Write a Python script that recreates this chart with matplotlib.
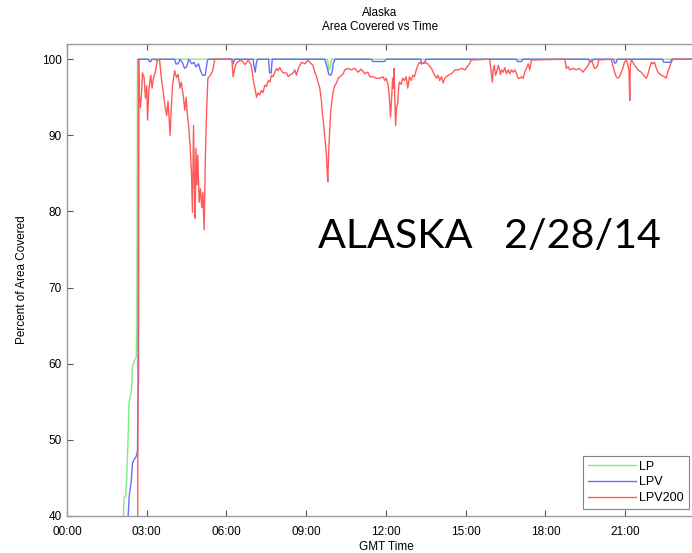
import matplotlib.pyplot as plt

# GMT hours / percent of area covered
lp_t = [2.12, 2.15, 2.20, 2.24, 2.28, 2.31, 2.33, 2.38, 2.43, 2.46, 2.52, 2.60, 2.63, 2.65,
        3.30, 3.35, 3.45, 3.50, 9.80, 9.85, 9.90, 9.95, 24.0]
lp_v = [40, 42.5, 42.5, 44.7, 48.3, 51.7, 54.8, 55.7, 56.6, 59.6, 60.3, 60.8, 64.4, 100,
        100, 99.8, 99.8, 100, 100, 98.6, 98.9, 100, 100]

lpv_t = [2.30, 2.34, 2.39, 2.42, 2.46, 2.52, 2.60, 2.65, 2.67, 2.69, 2.70,
         3.05, 3.10, 3.15, 3.20, 4.05, 4.10, 4.18, 4.25, 4.35, 4.42, 4.50, 4.58, 4.70, 4.78,
         4.85, 4.95, 5.02, 5.10, 5.20, 5.28, 5.32, 6.20, 6.25, 6.30, 7.00, 7.04, 7.08, 7.12,
         7.16, 7.58, 7.62, 7.68, 7.72, 9.70, 9.78, 9.85, 9.92, 9.97, 10.02, 10.08,
         11.45, 11.50, 11.95, 12.00, 13.30, 13.35, 13.45, 13.50, 16.90, 16.95, 17.10, 17.15,
         19.62, 19.66, 19.75, 19.80, 20.55, 20.60, 20.65, 20.70, 22.40, 22.45, 22.70, 22.75, 24.0]
lpv_v = [40, 42.6, 43.9, 44.7, 46.9, 47.4, 47.8, 48.5, 55.2, 57.9, 100,
         100, 99.7, 99.7, 100, 100, 99.4, 99.4, 100, 99.5, 98.8, 99.0, 100, 99.4, 99.6,
         99.0, 99.4, 98.5, 97.9, 97.9, 99.8, 100, 100, 99.4, 100, 100, 99.0, 98.3, 99.4,
         100, 100, 98.2, 98.2, 100, 100, 99.0, 98.0, 97.9, 98.3, 99.5, 100,
         100, 99.7, 99.7, 100, 100, 99.4, 99.5, 100, 100, 99.7, 99.7, 100,
         100, 99.7, 99.7, 100, 100, 99.5, 99.5, 100, 100, 99.6, 99.6, 100, 100]

lpv200_t = [2.66, 2.69, 2.72, 2.76, 2.80, 2.84, 2.90, 2.95, 3.00, 3.03, 3.08, 3.15, 3.20, 3.25,
            3.32, 3.40, 3.48, 3.55, 3.62, 3.68, 3.75, 3.80, 3.88, 3.92, 3.97, 4.05, 4.12, 4.18,
            4.25, 4.30, 4.37, 4.43, 4.48, 4.52, 4.58, 4.63, 4.68, 4.72, 4.76, 4.79, 4.82, 4.85,
            4.89, 4.92, 4.97, 5.02, 5.07, 5.11, 5.16, 5.20, 5.25, 5.30, 5.40, 5.48, 5.56, 6.20,
            6.25, 6.32, 6.40, 6.55, 6.70, 6.82, 6.92, 6.97, 7.02, 7.07, 7.13, 7.19, 7.25, 7.31,
            7.37, 7.44, 7.50, 7.57, 7.63, 7.69, 7.75, 7.82, 7.88, 7.94, 8.00, 8.07, 8.13, 8.26,
            8.32, 8.38, 8.51, 8.57, 8.63, 8.70, 8.82, 8.95, 9.06, 9.13, 9.25, 9.32, 9.38, 9.44,
            9.51, 9.57, 9.60, 9.66, 9.69, 9.73, 9.76, 9.78, 9.81, 9.84, 9.86, 9.89, 9.92, 9.96,
            10.01, 10.08, 10.14, 10.20, 10.27, 10.39, 10.45, 10.57, 10.70, 10.82, 10.95, 11.07,
            11.20, 11.32, 11.39, 11.51, 11.64, 11.76, 11.89, 11.95, 12.01, 12.08, 12.12, 12.17,
            12.21, 12.25, 12.28, 12.30, 12.33, 12.36, 12.40, 12.44, 12.46, 12.50, 12.57, 12.63,
            12.70, 12.76, 12.82, 12.88, 12.95, 13.01, 13.07, 13.14, 13.20, 13.26, 13.32, 13.45,
            13.57, 13.71, 13.77, 13.83, 13.90, 13.96, 14.02, 14.09, 14.15, 14.21, 14.34, 14.46,
            14.60, 14.72, 14.85, 14.97, 15.10, 15.21, 15.90, 15.96, 16.00, 16.03, 16.07, 16.12,
            16.16, 16.22, 16.26, 16.31, 16.35, 16.41, 16.47, 16.53, 16.60, 16.66, 16.72, 16.78,
            16.85, 16.91, 16.97, 17.03, 17.10, 17.16, 17.22, 17.28, 17.35, 17.41, 17.47, 18.72,
            18.76, 18.78, 18.85, 18.91, 19.04, 19.16, 19.28, 19.41, 19.47, 19.53, 19.60, 19.66,
            19.72, 19.78, 19.85, 19.91, 19.97, 20.00, 20.47, 20.53, 20.60, 20.66, 20.72, 20.78,
            20.85, 20.91, 20.97, 21.04, 21.10, 21.14, 21.17, 21.19, 21.23, 21.29, 21.35, 21.48,
            21.60, 21.73, 21.79, 21.85, 21.91, 21.98, 22.04, 22.10, 22.17, 22.23, 22.29, 22.35,
            22.48, 22.54, 22.60, 22.67, 22.73, 22.79, 24.0]
lpv200_v = [38, 100, 95.5, 93.6, 95.3, 98.2, 97.6, 94.9, 96.5, 92.0, 96.0, 97.9, 96.2, 97.5,
            98.3, 99.9, 100, 97.5, 95.7, 94.0, 92.6, 94.5, 90.0, 93.5, 96.6, 98.5, 97.6, 98.0,
            96.2, 97.0, 95.3, 93.3, 95.0, 93.0, 91.0, 88.7, 85.2, 79.9, 91.3, 84.4, 79.1, 88.3,
            83.5, 87.4, 81.2, 83.0, 80.5, 82.5, 77.6, 86.5, 93.0, 97.5, 97.9, 98.5, 100, 100,
            97.7, 99.0, 99.6, 99.9, 99.3, 99.9, 99.3, 98.3, 97.0, 96.2, 95.0, 95.6, 95.3, 95.9,
            95.6, 96.6, 96.4, 97.2, 97.0, 97.9, 97.7, 98.3, 98.8, 98.5, 98.9, 98.5, 98.2, 98.2,
            97.7, 97.9, 98.2, 98.6, 97.9, 98.8, 99.6, 99.4, 99.9, 99.6, 99.2, 98.3, 97.8, 97.0,
            96.2, 94.6, 93.1, 91.3, 90.0, 88.7, 87.4, 85.7, 83.9, 87.4, 89.1, 91.0, 93.1, 94.4,
            95.7, 96.6, 96.9, 97.5, 97.7, 98.1, 98.6, 98.8, 98.6, 98.8, 98.3, 98.7,
            98.1, 98.3, 97.7, 97.7, 97.5, 97.5, 97.7, 97.2, 97.5, 96.6, 95.3, 92.4,
            94.8, 97.5, 96.2, 98.8, 95.0, 91.3, 93.7, 94.2, 95.6, 97.0, 96.7, 97.5,
            97.2, 97.7, 96.2, 97.7, 97.2, 97.9, 97.7, 98.6, 99.2, 99.6, 99.4, 99.6,
            99.4, 98.8, 98.3, 97.9, 97.5, 97.9, 97.2, 97.7, 96.9, 97.5, 97.9, 98.1,
            98.6, 98.6, 98.8, 98.6, 99.2, 99.9, 100, 98.3, 97.0, 98.6, 99.2, 97.9,
            98.3, 99.2, 98.8, 98.0, 98.6, 98.3, 98.9, 98.1, 98.6, 98.1, 98.6, 98.3,
            98.6, 98.1, 97.5, 97.5, 97.7, 97.5, 98.3, 98.8, 99.4, 98.6, 99.9, 100,
            99.4, 98.8, 99.0, 98.6, 98.8, 98.6, 98.8, 98.3, 98.6, 98.8, 99.2, 99.6,
            99.9, 99.4, 98.8, 98.9, 99.2, 99.9, 100, 99.2, 98.3, 97.7, 97.5, 97.7,
            98.3, 98.8, 99.6, 99.9, 99.2, 98.5, 94.6, 99.2, 99.9, 99.6, 99.2, 98.6,
            98.3, 97.7, 97.5, 98.0, 98.8, 99.6, 99.4, 99.6, 98.8, 98.3, 98.1, 97.9,
            97.7, 97.5, 98.3, 99.0, 99.6, 100, 100]

tick_hours = [0, 3, 6, 9, 12, 15, 18, 21]
tick_labels = ["00:00", "03:00", "06:00", "09:00", "12:00", "15:00", "18:00", "21:00"]
y_ticks = [40, 50, 60, 70, 80, 90, 100]

plt.rcParams['font.family'] = ['Liberation Sans', 'DejaVu Sans']

fig = plt.figure(figsize=(6.92, 5.53), dpi=100)
ax = fig.add_axes([67 / 692, 1 - 516 / 553, 638 / 692, 472 / 553])

ax.plot(lp_t, lp_v, color="#7cf07c", lw=1.0, label="LP")
ax.plot(lpv_t, lpv_v, color="#6a6aff", lw=1.0, label="LPV")
ax.plot(lpv200_t, lpv200_v, color="#ff5a5a", lw=1.0, label="LPV200")

ax.set_xlim(0, 24)
ax.set_ylim(40, 102)
ax.set_xticks(tick_hours)
ax.set_xticklabels(tick_labels)
ax.set_yticks(y_ticks)
ax.tick_params(direction="in", top=True, right=True, length=4, width=0.8,
               color="#555555", labelsize=8.5)
ax.tick_params(axis="x", pad=7)
ax.tick_params(axis="y", pad=4)
for s in ax.spines.values():
    s.set_color("#999999")
    s.set_linewidth(1.0)

ax.set_xlabel("GMT Time", fontsize=8.5, labelpad=2)
ax.set_ylabel("Percent of Area Covered", fontsize=8.5, labelpad=10)

fig.text(380 / 692, 1 - 13 / 553, "Alaska", ha="center", va="center", fontsize=8.5)
fig.text(380 / 692, 1 - 27 / 553, "Area Covered vs Time", ha="center", va="center", fontsize=8.5)

leg = ax.legend(loc="lower right", bbox_to_anchor=(689 / 692, 1 - 509 / 553),
                bbox_transform=fig.transFigure, fontsize=9, fancybox=False,
                handlelength=3.8, borderpad=0.4, labelspacing=0.3, handletextpad=0.3,
                borderaxespad=0)
leg.get_frame().set_edgecolor("#666666")
leg.get_frame().set_linewidth(0.8)

fig.text(318 / 692, 1 - 248 / 553, "ALASKA   2/28/14", fontsize=29.7, family=["Lato", "DejaVu Sans"],
         va="baseline", ha="left")

fig.savefig("out.png", dpi=100)
